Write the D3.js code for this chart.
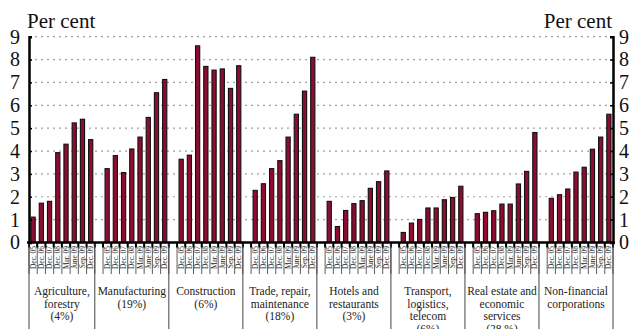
<!DOCTYPE html>
<html><head><meta charset="utf-8">
<script src="https://cdn.jsdelivr.net/npm/d3@7"></script>
<style>
html,body{margin:0;padding:0;background:#fff;}
svg{display:block;}
svg text{font-family:'Liberation Serif','Times New Roman',serif !important;}
</style></head>
<body><svg id="c" width="629" height="329"></svg>
<script>
const periods = ["Dec. 05","Dec. 06","Dec. 07","Dec. 08","Mar. 09","June 09","Sep. 09","Dec. 09"];
const sectors = [
  ["Agriculture,","forestry","(4%)"],
  ["Manufacturing","(19%)"],
  ["Construction","(6%)"],
  ["Trade, repair,","maintenance","(18%)"],
  ["Hotels and","restaurants","(3%)"],
  ["Transport,","logistics,","telecom","(6%)"],
  ["Real estate and","economic","services","(28 %)"],
  ["Non-financial","corporations"]
];
const agriculture   = [1.11, 1.72, 1.80, 3.93, 4.30, 5.23, 5.39, 4.50];
const manufacturing = [3.23, 3.80, 3.06, 4.09, 4.61, 5.47, 6.55, 7.13];
const construction  = [3.64, 3.82, 8.60, 7.70, 7.54, 7.59, 6.74, 7.73];
const trade         = [2.28, 2.57, 3.23, 3.58, 4.61, 5.61, 6.62, 8.10];
const hotels        = [1.80, 0.70, 1.40, 1.70, 1.83, 2.37, 2.66, 3.13];
const transport     = [0.44, 0.85, 1.01, 1.51, 1.51, 1.87, 1.97, 2.46];
const realEstate    = [1.26, 1.32, 1.39, 1.68, 1.68, 2.56, 3.11, 4.81];
const nonFinancial  = [1.93, 2.09, 2.34, 3.08, 3.29, 4.08, 4.61, 5.61];
const series = [agriculture, manufacturing, construction, trade, hotels, transport, realEstate, nonFinancial];
const yTicks = [0,1,2,3,4,5,6,7,8,9];
const yLabel = "Per cent";

(function () {
const FONT = "Liberation Serif, Times New Roman, serif";
const svg = d3.select("#c").attr("font-family", FONT);
const L = 29, R = 613, T = 36.7, B = 242.5;

const slots = [];
sectors.forEach((s, g) => {
  if (g > 0) slots.push("gap" + g);
  periods.forEach((p, j) => slots.push(g + "|" + j));
});
const x = d3.scaleBand().domain(slots).range([L, R]).paddingInner(0).paddingOuter(0);
const y = d3.scaleLinear().domain([0, 9]).range([B, T]);
const bw = x.bandwidth();

svg.append("g").selectAll("line").data(yTicks.filter(d => d > 0)).join("line")
  .attr("x1", L).attr("x2", R)
  .attr("y1", d => y(d)).attr("y2", d => y(d))
  .attr("stroke", "#a0a0a0").attr("stroke-width", 1.2)
  .attr("stroke-dasharray", "2,4");

const barData = [];
series.forEach((vals, g) => vals.forEach((v, j) => barData.push({g, j, v})));
svg.append("g").selectAll("rect").data(barData).join("rect")
  .attr("x", d => x(d.g + "|" + d.j) + bw / 2 - 2.1)
  .attr("width", 4.2)
  .attr("y", d => y(d.v))
  .attr("height", d => y(0) - y(d.v))
  .attr("fill", "#8e0c31").attr("stroke", "#111").attr("stroke-width", 1.1);

const bounds = slots.map(s => x(s)).concat([R]);
svg.append("g").selectAll("line").data(bounds).join("line")
  .attr("x1", d => d).attr("x2", d => d)
  .attr("y1", B).attr("y2", 274)
  .attr("stroke", "#333").attr("stroke-width", 0.8);
svg.append("g").selectAll("line").data(bounds).join("line")
  .attr("x1", d => d).attr("x2", d => d)
  .attr("y1", B).attr("y2", B + 5)
  .attr("stroke", "#000").attr("stroke-width", 2);

const seps = [L].concat(sectors.slice(1).map((s, g) => x("gap" + (g + 1))), [R]);
svg.append("g").selectAll("line").data(seps).join("line")
  .attr("x1", d => d).attr("x2", d => d)
  .attr("y1", B).attr("y2", 329)
  .attr("stroke", "#444").attr("stroke-width", 1);

svg.append("g").selectAll("text").data(barData).join("text")
  .attr("transform", d => `translate(${x(d.g + "|" + d.j) + bw / 2 + 2.5},${B + 3.5}) rotate(-90)`)
  .attr("text-anchor", "end")
  .attr("font-size", 7.4).attr("fill", "#222")
  .text(d => periods[d.j]);

const gl = svg.append("g");
sectors.forEach((lines, g) => {
  const cx = (seps[g] + seps[g + 1]) / 2;
  lines.forEach((t, k) => {
    gl.append("text").attr("x", cx).attr("y", 295 + k * 12.6)
      .attr("text-anchor", "middle").attr("font-size", 11.5).attr("fill", "#222").text(t);
  });
});

svg.append("line").attr("x1", L - 2).attr("x2", R + 2)
  .attr("y1", B).attr("y2", B).attr("stroke", "#000").attr("stroke-width", 2.5);

const axL = svg.append("g").attr("transform", `translate(${L},0)`)
  .call(d3.axisLeft(y).tickValues(yTicks).tickSize(-3).tickPadding(9).tickFormat(d3.format("d")));
const axR = svg.append("g").attr("transform", `translate(${R},0)`)
  .call(d3.axisRight(y).tickValues(yTicks).tickSize(-3).tickPadding(6).tickFormat(d3.format("d")));
[axL, axR].forEach(a => {
  a.attr("font-family", FONT);
  a.select(".domain").attr("stroke", "#000").attr("stroke-width", 2.5);
  a.selectAll(".tick line").attr("stroke", "#000").attr("stroke-width", 1.5);
  a.selectAll(".tick text").attr("font-size", 20).attr("fill", "#111");
});

svg.append("text").attr("x", 27).attr("y", 28).attr("font-size", 21).attr("fill", "#111").text(yLabel);
svg.append("text").attr("x", 612).attr("y", 28).attr("text-anchor", "end").attr("font-size", 21).attr("fill", "#111").text(yLabel);
})();
</script></body></html>
